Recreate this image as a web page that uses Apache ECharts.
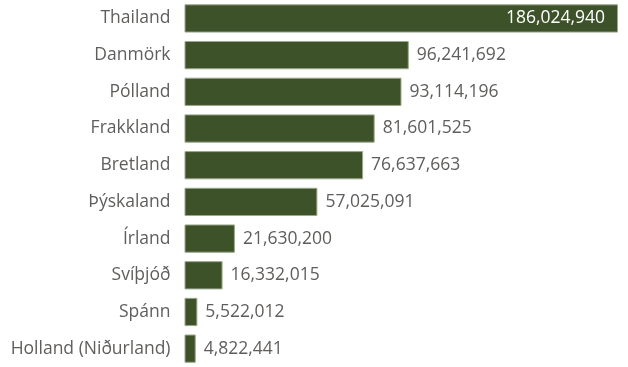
<!DOCTYPE html>
<html><head><meta charset="utf-8">
<script src="https://cdn.jsdelivr.net/npm/echarts@6/dist/echarts.min.js"></script>
<style>html,body{margin:0;padding:0;background:#fff}#c{width:628px;height:367px}</style>
</head><body><div id="c"></div>
<script>
const categories = ["Thailand","Danmörk","Pólland","Frakkland","Bretland","Þýskaland","Írland","Svíþjóð","Spánn","Holland (Niðurland)"];
const values = [186024940,96241692,93114196,81601525,76637663,57025091,21630200,16332015,5522012,4822441];

const fmt = v => v.toLocaleString('en-US');
const chart = echarts.init(document.getElementById('c'), null, {renderer:'canvas'});
chart.setOption({
  animation:false,
  grid:{left:184.5, right:10, top:0.1, height:368.3, containLabel:false},
  xAxis:{type:'value', min:0, max:values[0], show:false},
  yAxis:{type:'category', inverse:true, data:categories,
    axisLine:{show:false}, axisTick:{show:false},
    axisLabel:{color:'#605e5c', fontSize:17.5, fontFamily:'Open Sans', margin:14}},
  series:[{type:'bar', data:values.map((v,i)=>({value:v, label: i===0 ? {position:'insideRight', color:'#fff', distance:13} : {}})),
    barCategoryGap:'23%',
    itemStyle:{color:'#3e5229', borderColor:'#9aa88c', borderWidth:1},
    label:{show:true, position:'right', distance:8, color:'#605e5c', fontSize:17.5, fontFamily:'Open Sans', formatter:p=>fmt(p.value)}
  }]
});
</script></body></html>
